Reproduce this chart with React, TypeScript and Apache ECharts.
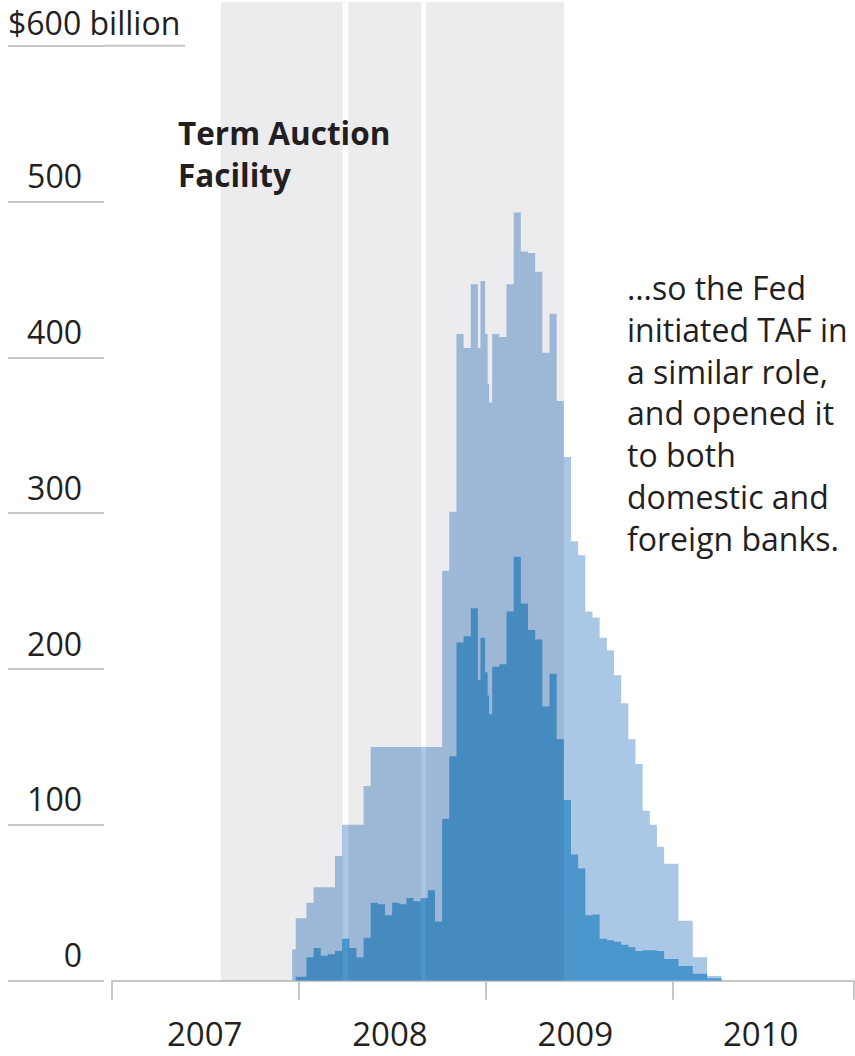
import { useEffect, useRef } from 'react';
import * as echarts from 'echarts';

const YEAR_LABELS = ['2007', '2008', '2009', '2010'];
const X_MIN = 2007;
const X_MAX = 2010.969;
const Y_MAX = 600;
const Y_STEP = 100;

const TOTAL_DATES = ['2007-12-19','2007-12-26','2008-01-16','2008-01-30','2008-03-12','2008-03-26','2008-05-07','2008-05-21','2008-10-08','2008-10-22','2008-11-05','2008-11-19','2008-12-03','2008-12-17','2008-12-22','2008-12-31','2009-01-05','2009-01-08','2009-01-14','2009-01-28','2009-02-11','2009-02-25','2009-03-11','2009-03-25','2009-04-08','2009-04-22','2009-05-06','2009-05-20','2009-06-03','2009-06-17','2009-07-01','2009-07-15','2009-07-29','2009-08-12','2009-08-26','2009-09-09','2009-09-23','2009-10-07','2009-10-21','2009-11-04','2009-11-18','2009-12-02','2009-12-16','2010-01-13','2010-02-10','2010-03-10','2010-04-07'];
const TOTAL_VALUES = [20,40,50,60,80,100,125,150,263,301,415,406,447,406,449,415,383,371,415,413,447,493,468,467,455,403,428,372,336,282,273,237,233,220,212,196,178,155,139,109,100,86,75,38.5,15,3,0];

const INNER_DATES = ['2007-12-26','2008-01-16','2008-01-30','2008-02-13','2008-02-27','2008-03-12','2008-03-26','2008-04-09','2008-04-23','2008-05-07','2008-05-21','2008-06-04','2008-06-18','2008-07-02','2008-07-16','2008-07-30','2008-08-13','2008-08-27','2008-09-10','2008-09-24','2008-10-08','2008-10-22','2008-11-05','2008-11-19','2008-12-03','2008-12-17','2008-12-22','2008-12-31','2009-01-05','2009-01-08','2009-01-14','2009-01-28','2009-02-11','2009-02-25','2009-03-11','2009-03-25','2009-04-08','2009-04-22','2009-05-06','2009-05-20','2009-06-03','2009-06-17','2009-07-01','2009-07-15','2009-07-29','2009-08-12','2009-08-26','2009-09-09','2009-09-23','2009-10-07','2009-10-21','2009-11-04','2009-11-18','2009-12-02','2009-12-16','2010-01-13','2010-02-10','2010-03-10','2010-04-07'];
const INNER_VALUES = [2.5,15,21,16,17,19,27,21,15,27.5,50,49,42,50,49,53,51,53,58,38,104,144,217,221,239,193,220,198,183,171,201.5,203,237,272,242,225,219,176,197,155,116,81,72,42,42.5,27,26,25,23,21.5,19,19.5,19.5,19,14,9.5,4.5,1.5,0];

const PERIOD_STARTS = ['2007-08-02', '2008-04-07', '2008-09-06'];
const PERIOD_ENDS = ['2008-03-27', '2008-08-28', '2009-06-03'];

const TITLE = 'Term Auction\nFacility';
const NOTE = '\u2026so the Fed\ninitiated TAF in\na similar role,\nand opened it\nto both\ndomestic and\nforeign banks.';

const FONT = '"Open Sans", "Noto Sans", sans-serif';
const TEXT_COLOR = '#231f20';
const RULE_COLOR = '#c6c6c9';
const GRID_TOP = 45.7;
const GRID_BOTTOM = 75.3;
const GRID_LEFT = 112;
const GRID_RIGHT = 1.7;

function toYear(s: string): number {
  const [y, m, d] = s.split('-').map(Number);
  const start = Date.UTC(y, 0, 1);
  const end = Date.UTC(y + 1, 0, 1);
  return y + (Date.UTC(y, m - 1, d) - start) / (end - start);
}

export default function App() {
  const ref = useRef<HTMLDivElement>(null);
  useEffect(() => {
    if (!ref.current) return;
    const chart = echarts.init(ref.current, undefined, { renderer: 'svg' });
    const total = TOTAL_DATES.map((d, i) => [toYear(d), TOTAL_VALUES[i]]);
    const inner = INNER_DATES.map((d, i) => [toYear(d), INNER_VALUES[i]]);
    const bands = PERIOD_STARTS.map((s, i) => [{ xAxis: toYear(s) }, { xAxis: toYear(PERIOD_ENDS[i]) }]);

    chart.setOption({
      animation: false,
      textStyle: { fontFamily: FONT },
      grid: [
        { left: GRID_LEFT, right: GRID_RIGHT, top: GRID_TOP, bottom: GRID_BOTTOM, containLabel: false, outerBoundsMode: 'none' },
        { left: GRID_LEFT, right: GRID_RIGHT, top: 2, bottom: GRID_BOTTOM, containLabel: false, outerBoundsMode: 'none' },
      ],
      xAxis: [
        {
          gridIndex: 0, type: 'value', min: X_MIN, max: X_MAX, interval: 1,
          axisLine: { show: true, onZero: false, lineStyle: { color: RULE_COLOR, width: 2 } },
          axisTick: { show: true, length: 19, lineStyle: { color: RULE_COLOR, width: 2 } },
          axisLabel: { show: false },
          splitLine: { show: false },
        },
        {
          gridIndex: 0, type: 'category', data: YEAR_LABELS, position: 'bottom',
          axisLine: { show: false, onZero: false }, axisTick: { show: false },
          axisLabel: { fontSize: 33, color: TEXT_COLOR, fontFamily: FONT, margin: 36 },
          splitLine: { show: false },
        },
        { gridIndex: 1, type: 'value', min: X_MIN, max: X_MAX, show: false },
      ],
      yAxis: [
        {
          gridIndex: 0, type: 'value', min: 0, max: Y_MAX, interval: Y_STEP, position: 'left', offset: 8,
          axisLine: { show: false },
          axisTick: { show: true, length: 96, lineStyle: { color: RULE_COLOR, width: 2 } },
          axisLabel: {
            margin: 22, fontSize: 32, color: TEXT_COLOR, fontFamily: FONT,
            verticalAlign: 'bottom', lineHeight: 34, padding: [0, 0, 9, 0],
            formatter: (v: number) => (v === Y_MAX ? '' : String(v)),
          },
          splitLine: { show: false },
        },
        {
          gridIndex: 0, type: 'value', min: 0, max: Y_MAX, interval: Y_STEP, position: 'left', offset: 8,
          axisLine: { show: false }, axisTick: { show: false },
          axisLabel: {
            margin: 96, fontSize: 32, color: TEXT_COLOR, fontFamily: FONT, align: 'left',
            verticalAlign: 'bottom', lineHeight: 34, padding: [0, 0, 6, 0],
            formatter: (v: number) => (v === Y_MAX ? '$' + v + ' billion' : ''),
          },
          splitLine: { show: false },
        },
        { gridIndex: 1, type: 'value', min: 0, max: 1, show: false },
      ],
      series: [
        {
          type: 'line', xAxisIndex: 0, yAxisIndex: 0, step: 'end', symbol: 'none', silent: true,
          data: total, lineStyle: { width: 0, opacity: 0 },
          areaStyle: { color: '#aac7e6', opacity: 1 }, z: 2,
        },
        {
          type: 'line', xAxisIndex: 0, yAxisIndex: 0, step: 'end', symbol: 'none', silent: true,
          data: inner, lineStyle: { width: 0, opacity: 0 },
          areaStyle: { color: '#4b96cc', opacity: 1 }, z: 3,
        },
        {
          type: 'line', xAxisIndex: 2, yAxisIndex: 2, symbol: 'none', silent: true,
          data: [[X_MIN, 0]], lineStyle: { opacity: 0 }, z: 6,
          markArea: {
            silent: true, z: 6,
            itemStyle: { color: 'rgba(10,10,40,0.08)' },
            label: { show: false },
            data: bands,
          },
        },
      ],
      graphic: [
        {
          id: 'title', type: 'text', x: 178, y: 111, z: 100,
          style: {
            text: TITLE, fontFamily: FONT, fontSize: 31.5, fontWeight: 'bold', lineHeight: 42,
            fill: TEXT_COLOR, align: 'left', verticalAlign: 'top',
          },
        },
        {
          id: 'note', type: 'text', x: 627, y: 267, z: 100,
          style: {
            text: NOTE, fontFamily: FONT, fontSize: 32, lineHeight: 41.7,
            fill: TEXT_COLOR, align: 'left', verticalAlign: 'top',
          },
        },
        {
          id: 'topRule', type: 'line', z: 50,
          shape: { x1: 104, y1: GRID_TOP, x2: 185, y2: GRID_TOP },
          style: { stroke: RULE_COLOR, lineWidth: 2 },
        },
      ],
    });
    return () => chart.dispose();
  }, []);
  return <div ref={ref} style={{ position: 'absolute', left: 0, top: 0, width: 855, height: 1056 }} />;
}
